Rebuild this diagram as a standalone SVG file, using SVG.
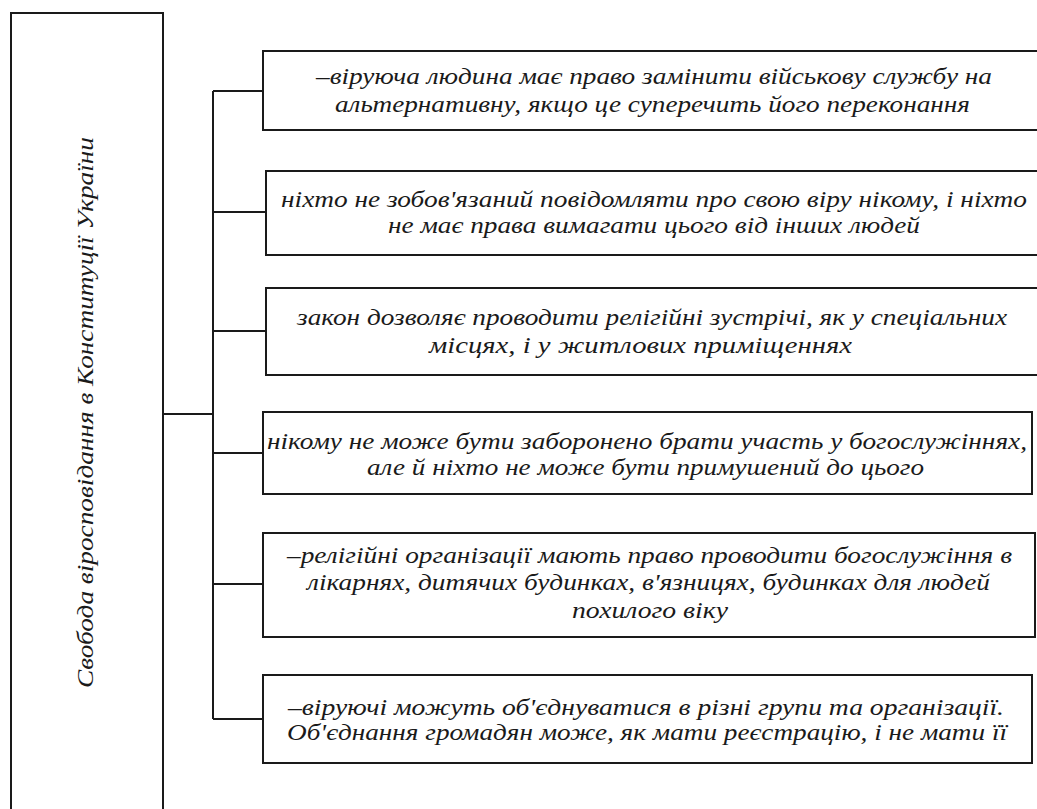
<svg xmlns="http://www.w3.org/2000/svg" width="1037" height="809" viewBox="0 0 1037 809">
<style>
.box{fill:#fff;stroke:#1a1a1a;stroke-width:2}
.conn{fill:none;stroke:#1a1a1a;stroke-width:2}
.t{font-family:'Liberation Serif','DejaVu Serif',serif;font-style:italic;font-size:23px;fill:#1a1a1a}
</style>
<rect x="0" y="0" width="1037" height="809" fill="#fff"/>
<g id="connectors">
<path class="conn" d="M163 414H213M213 91V719"/>
<path class="conn" d="M213 91H263M213 212H266M213 331H266M213 453H263M213 584H263M213 719H263"/>
<path class="conn" d="M213 212V414" stroke-width="3"/>
</g>
<g id="main">
<rect class="box" x="11" y="13" width="152" height="810"/>
<text class="t" font-family="Liberation Serif, DejaVu Serif, serif" transform="translate(93,688) rotate(-90)" textLength="551" lengthAdjust="spacingAndGlyphs">Свобода віросповідання в Конституції України</text>
</g>
<g id="n1">
<rect class="box" x="263" y="51" width="790" height="79"/>
<text class="t" x="316" y="84" textLength="676" lengthAdjust="spacingAndGlyphs">–віруюча людина має право замінити військову службу на</text>
<text class="t" x="335" y="112" textLength="635" lengthAdjust="spacingAndGlyphs">альтернативну, якщо це суперечить його переконання</text>
</g>
<g id="n2">
<rect class="box" x="266" y="171" width="790" height="84"/>
<text class="t" x="281" y="207" textLength="746" lengthAdjust="spacingAndGlyphs">ніхто не зобов'язаний повідомляти про свою віру нікому, і ніхто</text>
<text class="t" x="388" y="233" textLength="532" lengthAdjust="spacingAndGlyphs">не має права вимагати цього від інших людей</text>
</g>
<g id="n3">
<rect class="box" x="266" y="288" width="790" height="87"/>
<text class="t" x="297" y="325" textLength="710" lengthAdjust="spacingAndGlyphs">закон дозволяє проводити релігійні зустрічі, як у спеціальних</text>
<text class="t" x="429" y="353" textLength="423" lengthAdjust="spacingAndGlyphs">місцях, і у житлових приміщеннях</text>
</g>
<g id="n4">
<rect class="box" x="263" y="412" width="769" height="82"/>
<text class="t" x="267" y="449" textLength="760" lengthAdjust="spacingAndGlyphs">нікому не може бути заборонено брати участь у богослужіннях,</text>
<text class="t" x="367" y="475" textLength="557" lengthAdjust="spacingAndGlyphs">але й ніхто не може бути примушений до цього</text>
</g>
<g id="n5">
<rect class="box" x="263" y="533" width="772" height="104"/>
<text class="t" x="287" y="563" textLength="725" lengthAdjust="spacingAndGlyphs">–релігійні організації мають право проводити богослужіння в</text>
<text class="t" x="307" y="590" textLength="683" lengthAdjust="spacingAndGlyphs">лікарнях, дитячих будинках, в'язницях, будинках для людей</text>
<text class="t" x="572" y="618" textLength="156" lengthAdjust="spacingAndGlyphs">похилого віку</text>
</g>
<g id="n6">
<rect class="box" x="263" y="675" width="769" height="88"/>
<text class="t" x="288" y="715" textLength="716" lengthAdjust="spacingAndGlyphs">–віруючі можуть об'єднуватися в різні групи та організації.</text>
<text class="t" x="287" y="740" textLength="720" lengthAdjust="spacingAndGlyphs">Об'єднання громадян може, як мати реєстрацію, і не мати її</text>
</g>
</svg>
